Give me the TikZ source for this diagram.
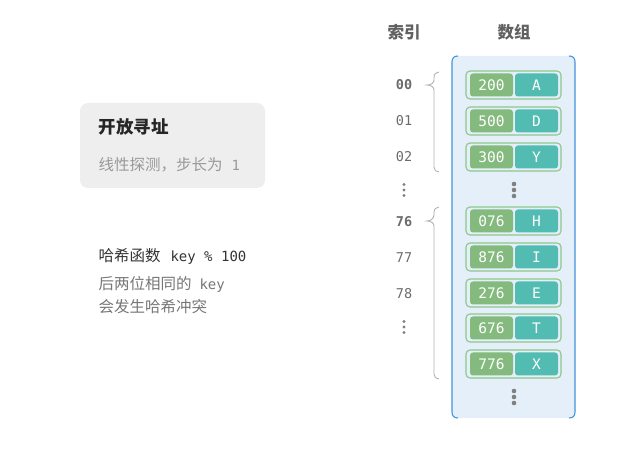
\documentclass[tikz,border=0pt]{standalone}
\usepackage{fontspec}
\setmainfont{Noto Sans CJK SC}
\setmonofont{DejaVu Sans Mono}
\usetikzlibrary{positioning}
\definecolor{keygreen}{HTML}{84BA7E}
\definecolor{valteal}{HTML}{52BCB2}
\definecolor{rowline}{HTML}{8CC88A}
\definecolor{panelfill}{HTML}{E4EFF9}
\definecolor{panelline}{HTML}{4292DC}
\definecolor{cardfill}{HTML}{EEEEEE}
\definecolor{greytext}{HTML}{777777}

\begin{document}
\begin{tikzpicture}[x=1pt,y=-1pt,
  head/.style={font=\bfseries\fontsize{16.5}{18}\selectfont,text=black!62},
  idx/.style={font=\ttfamily\fontsize{13.5}{15}\selectfont,text=black!58},
  note/.style={anchor=west,font=\fontsize{15.5}{17}\selectfont},
  rowbox/.style={draw=rowline,line width=1.1pt,rounded corners=4pt,
    minimum width=95pt,minimum height=28pt},
  keycell/.style={fill=keygreen,rounded corners=3pt,minimum width=43pt,
    minimum height=23pt,inner sep=0pt,text=white,
    font=\ttfamily\fontsize{14.5}{16}\selectfont},
  valcell/.style={keycell,fill=valteal},
  dot/.style={fill=black!50,draw=none},
  brace/.style={draw=black!30,line width=.9pt}]
\useasboundingbox (0,0) rectangle (635,462);

% left card
\fill[cardfill,rounded corners=8pt] (80,103) rectangle (265,188);
\node[note,font=\bfseries\fontsize{17.5}{19}\selectfont,text=black!85]
  (title) at (95,127) {开放寻址};
\node[note,text=black!40] (probe) at (95,165)
  {线性探测，步长为\hspace{9pt}\texttt{\fontsize{14}{16}\selectfont 1}};

% hash function note
\node[note,text=black!80] (hashfn) at (95,256)
  {哈希函数\hspace{10pt}\texttt{\fontsize{14}{16}\selectfont key \% 100}};
\node[note,text=greytext] (same) at (95,284)
  {后两位相同的\hspace{8pt}\texttt{\fontsize{14}{16}\selectfont key}};
\node[note,text=greytext] (clash) at (95,307) {会发生哈希冲突};

% headings
\node[head] (idxhead) at (404,32) {索引};
\node[head] (arrhead) at (514,32) {数组};

% array panel
\fill[panelfill,rounded corners=5pt] (452,56) rectangle (575,418);
\draw[panelline,line width=1.1pt]
  (458,56) .. controls (454,56) and (452,58) .. (452,62) -- (452,412)
  .. controls (452,416) and (454,418) .. (458,418);
\draw[panelline,line width=1.1pt]
  (569,56) .. controls (573,56) and (575,58) .. (575,62) -- (575,412)
  .. controls (575,416) and (573,418) .. (569,418);

% buckets
\foreach \yy/\k/\v/\n in {85/200/A/a,121/500/D/d,157/300/Y/y,
    221/076/H/h,257/876/I/i,293/276/E/e,328/676/T/t,364/776/X/x} {
  \node[rowbox] (row\n) at (513.5,\yy) {};
  \node[keycell] (key\n) at (491.5,\yy) {\k};
  \node[valcell] (val\n) at (536.5,\yy) {\v};
}
\foreach \yy in {184,190,196,391,397,403}
  \fill[dot] (514,\yy) circle (2.3pt);

% index column
\node[idx,font=\ttfamily\bfseries\fontsize{13.5}{15}\selectfont] (i00) at (404,85) {00};
\node[idx] (i01) at (404,121) {01};
\node[idx] (i02) at (404,157) {02};
\node[idx,font=\ttfamily\bfseries\fontsize{13.5}{15}\selectfont] (i76) at (404,222) {76};
\node[idx] (i77) at (404,258) {77};
\node[idx] (i78) at (404,294) {78};
\foreach \yy in {184.5,190,195.5,321.5,327,332.5}
  \fill[dot] (404,\yy) circle (1.6pt);

% braces
\draw[brace] (439,72) .. controls (436,72) and (434,74) .. (434,78) -- (434,80)
  .. controls (434,83) and (431,85) .. (427,85)
  .. controls (431,85) and (434,87) .. (434,90) -- (434,167)
  .. controls (434,170) and (436,172) .. (439,172);
\draw[brace] (439,207) .. controls (436,207) and (434,209) .. (434,213) -- (434,215)
  .. controls (434,218) and (431,221) .. (427,221)
  .. controls (431,221) and (434,223) .. (434,226) -- (434,374)
  .. controls (434,377) and (436,379) .. (439,379);
\end{tikzpicture}
\end{document}
